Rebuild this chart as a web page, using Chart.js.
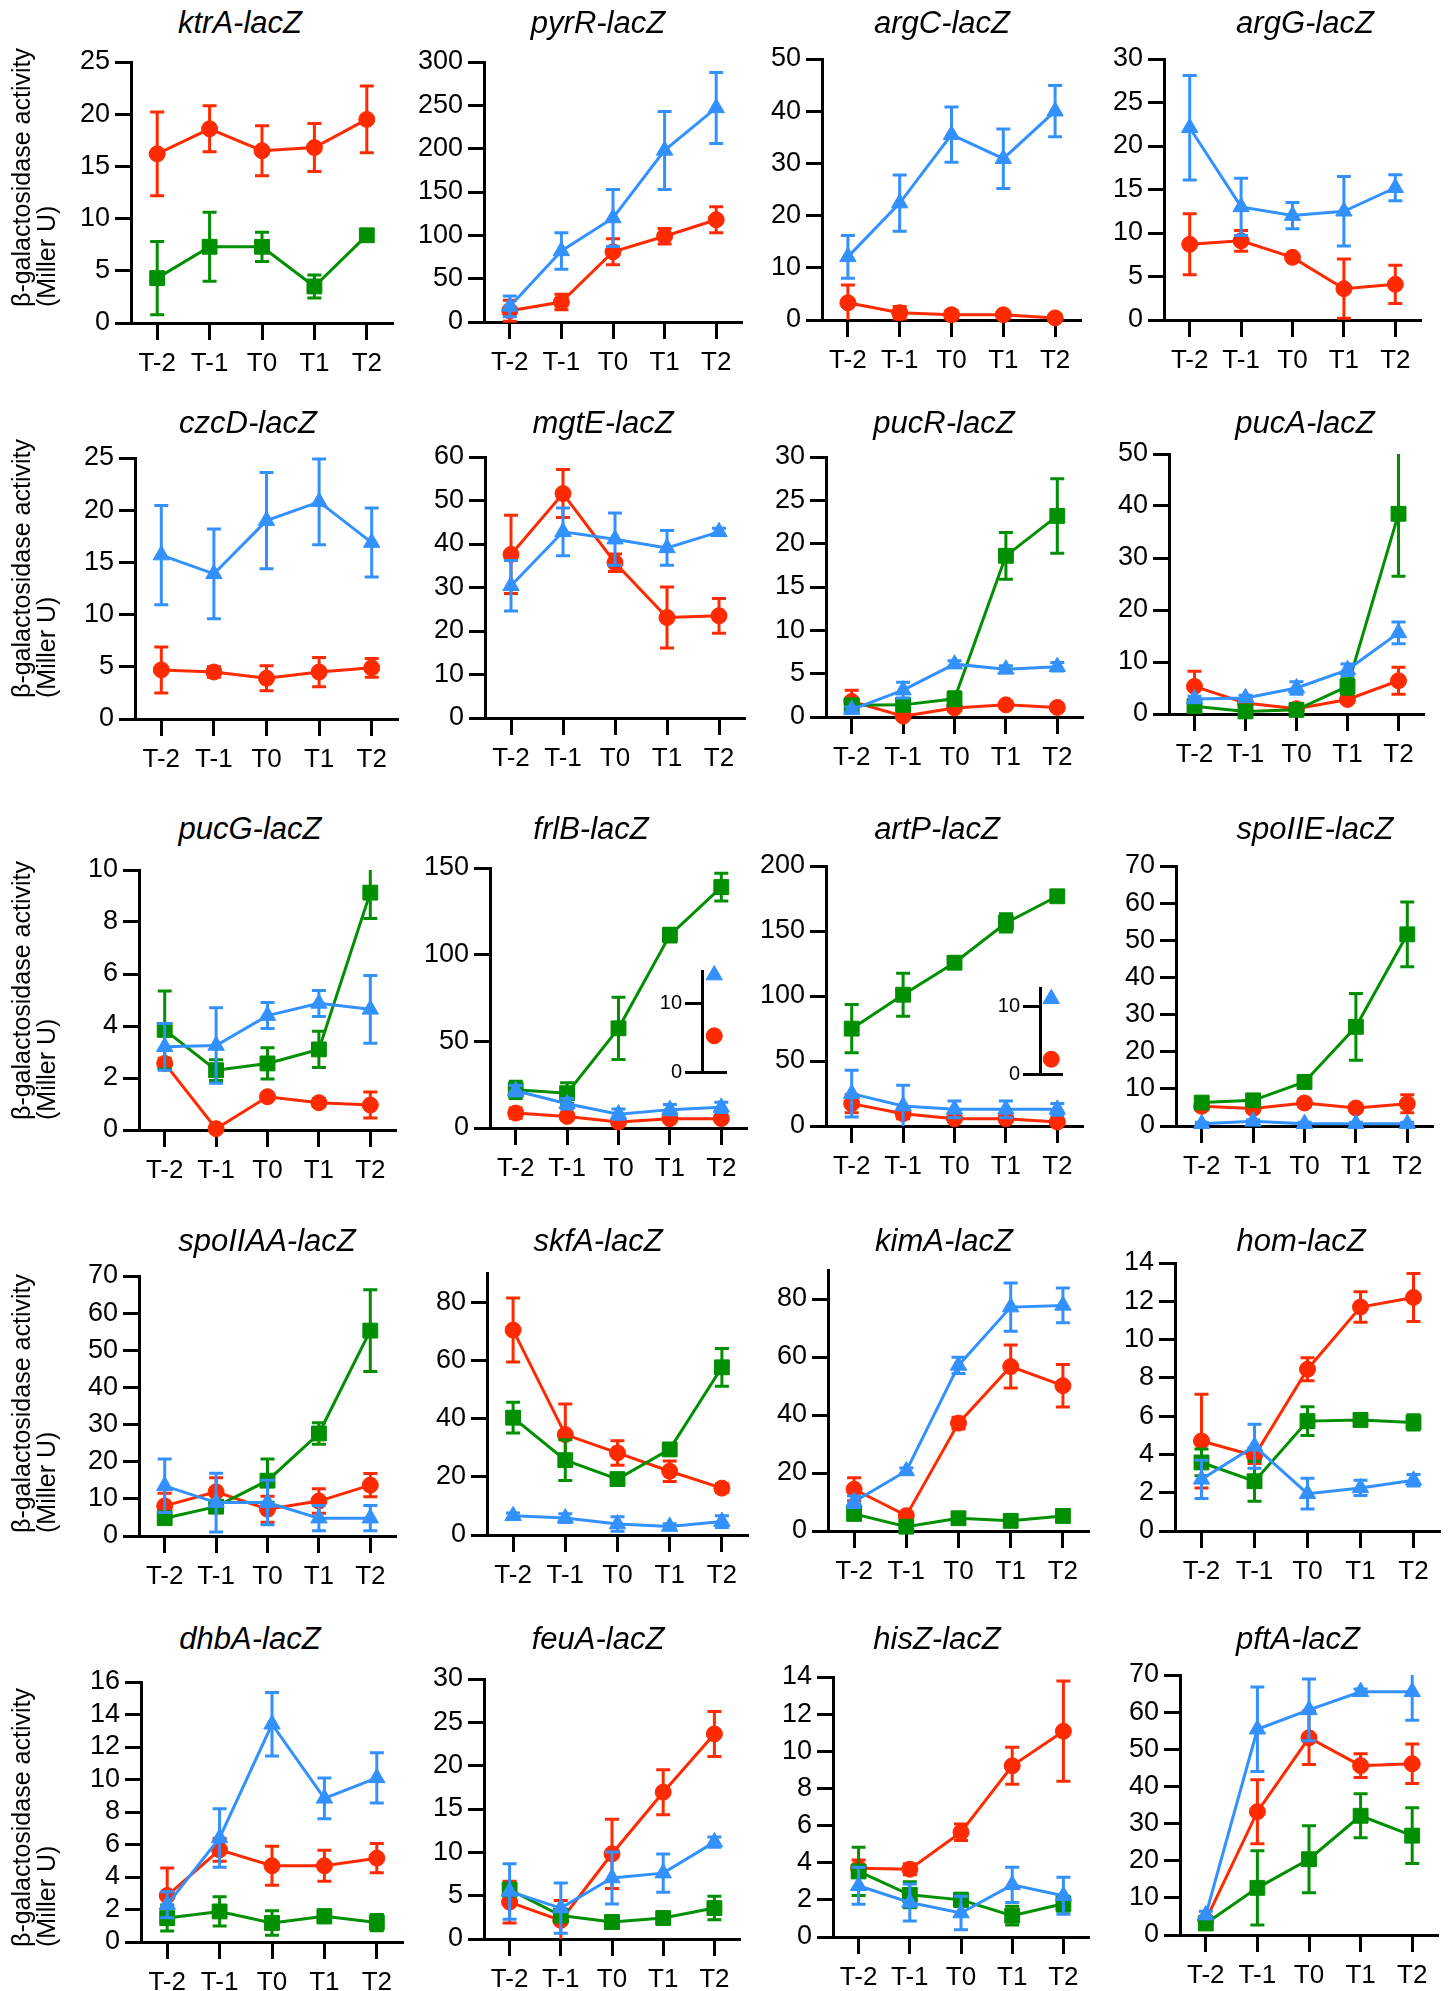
<!DOCTYPE html>
<html><head><meta charset="utf-8">
<script src="https://cdn.jsdelivr.net/npm/chart.js@4.4.1/dist/chart.umd.min.js"></script>
<style>
body{margin:0;background:#fff;}
#wrap{position:relative;width:1453px;height:1991px;overflow:hidden;background:#fff;}
canvas{position:absolute;}
.title{position:absolute;font-family:"Liberation Sans",Arial,Helvetica,sans-serif;font-style:italic;font-size:31px;line-height:31px;white-space:nowrap;transform:translate(-50%,-50%);color:#000;}
.ylab{position:absolute;font-family:"Liberation Sans",Arial,Helvetica,sans-serif;font-size:25px;line-height:25px;white-space:nowrap;transform-origin:0 0;transform:rotate(-90deg);color:#000;text-align:left;}
</style></head><body><div id="wrap"></div>
<script>
// ---------------- DATA ----------------
const timepoints = ['T-2','T-1','T0','T1','T2'];
const genes = ['ktrA','pyrR','argC','argG','czcD','mgtE','pucR','pucA','pucG','frlB','artP','spoIIE','spoIIAA','skfA','kimA','hom','dhbA','feuA','hisZ','pftA'];
const yAxisMax = [25,300,50,30, 25,60,30,50, 10,150,200,70, 70,90,90,14, 16,30,14,70];
const yTickStep = [5,50,10,5, 5,10,5,10, 2,50,50,10, 10,20,20,2, 2,5,2,10];
const yAxisTitle = ['β-galactosidase activity','(Miller U)'];

const ktrA_red = [16.2,18.6,16.5,16.8,19.5], ktrA_redSD = [4.0,2.2,2.4,2.3,3.2];
const ktrA_green = [4.3,7.3,7.3,3.5,8.4], ktrA_greenSD = [3.5,3.3,1.4,1.1,0.3];

const pyrR_red = [13,23,81,99,118], pyrR_redSD = [12,9,15,9,15];
const pyrR_blue = [18,82,120,198,247], pyrR_blueSD = [12,21,33,45,41];

const argC_red = [3.3,1.4,1.0,1.0,0.4], argC_redSD = [3.4,1.2,0.8,0.6,0.6];
const argC_blue = [12.1,22.4,35.5,30.9,40.0], argC_blueSD = [4.1,5.4,5.3,5.7,4.9];

const argG_red = [8.7,9.1,7.2,3.6,4.1], argG_redSD = [3.5,1.2,0.3,3.4,2.2];
const argG_blue = [22.1,13.0,12.0,12.5,15.2], argG_blueSD = [6.0,3.3,1.5,4.0,1.5];

const czcD_red = [4.7,4.5,3.9,4.5,4.9], czcD_redSD = [2.2,0.5,1.2,1.4,0.9];
const czcD_blue = [15.7,13.9,19.0,20.8,16.9], czcD_blueSD = [4.75,4.3,4.6,4.1,3.3];

const mgtE_red = [37.6,51.6,35.7,23.1,23.5], mgtE_redSD = [9,5.5,2,7,4];
const mgtE_blue = [30.4,42.8,41.1,39.1,42.8], mgtE_blueSD = [5.8,5.5,6,4,0.8];

const pucR_red = [1.8,0.1,1.05,1.4,1.1], pucR_redSD = [1.3,0.3,0.3,0.3,0.3];
const pucR_green = [1.35,1.4,2.1,18.6,23.2], pucR_greenSD = [0.3,0.4,0.8,2.7,4.3];
const pucR_blue = [0.85,3.1,6.1,5.5,5.8], pucR_blueSD = [0.3,0.9,0.4,0.4,0.5];

const pucA_red = [5.3,2.1,1.0,2.8,6.4], pucA_redSD = [2.9,0.5,0.3,0.5,2.6];
const pucA_green = [1.5,0.5,0.8,5.3,38.5], pucA_greenSD = [0.5,0.3,0.3,1.5,12];
const pucA_blue = [2.9,3.1,5.0,8.5,15.6], pucA_blueSD = [0.5,0.5,1.2,1.1,2.1];

const pucG_red = [2.56,0.05,1.28,1.05,0.96], pucG_redSD = [0.2,0.05,0.1,0.15,0.5];
const pucG_green = [3.85,2.3,2.56,3.1,9.13], pucG_greenSD = [1.5,0.4,0.6,0.7,1.0];
const pucG_blue = [3.2,3.25,4.4,4.87,4.64], pucG_blueSD = [0.9,1.45,0.5,0.5,1.3];

const frlB_red = [8.6,6.7,3.5,5.4,5.4], frlB_redSD = [3,2,1,1,1];
const frlB_green = [22,20.1,57.5,111.3,139], frlB_greenSD = [5,6,18,4,8];
const frlB_blue = [21.5,14,8,10.6,11.9], frlB_blueSD = [3,3,3,3,3];
const frlB_insetRed = [5.3], frlB_insetBlue = [14.2];

const artP_red = [17.2,9.5,5.6,5.6,3.1], artP_redSD = [7,4,2,2,2];
const artP_green = [74.9,101,125.6,156.2,176.7], artP_greenSD = [18.5,16.5,3,7,3];
const artP_blue = [24.9,15.4,12.8,12.8,12.8], artP_blueSD = [18,16,6.5,6.5,4.5];
const artP_insetRed = [2.2], artP_insetBlue = [11.2];
const insetAxisMax = [14.8, 12.8];
const insetTicks = [0, 10];

const spoIIE_red = [5.3,4.7,6.2,4.85,6.0], spoIIE_redSD = [1,1,1,1,2.4];
const spoIIE_green = [6.3,6.9,11.85,26.7,51.6], spoIIE_greenSD = [1,1,1,9,8.7];
const spoIIE_blue = [0.6,1.25,0.6,0.6,0.6], spoIIE_blueSD = [0.4,0.4,0.4,0.4,0.4];

const spoIIAA_red = [8.1,11.9,7.2,9.4,13.7], spoIIAA_redSD = [3.4,3.8,3.5,3.3,3.1];
const spoIIAA_green = [4.8,7.9,14.9,27.6,55.3], spoIIAA_greenSD = [1,1,5.8,2.9,11];
const spoIIAA_blue = [13.5,9.0,9.0,4.8,4.8], spoIIAA_blueSD = [7.2,7.9,6,3.4,3.4];

const skfA_red = [70.4,34.5,28.2,21.9,16.1], skfA_redSD = [11,10.5,4.2,3.5,1.5];
const skfA_green = [40.3,25.7,19.2,29.4,57.6], skfA_greenSD = [5.3,7,1.5,2,6.5];
const skfA_blue = [6.6,5.8,3.8,2.9,4.6], skfA_blueSD = [1,1.5,2.5,1,2];

const kimA_red = [14.4,5.3,37.2,56.7,50.1], kimA_redSD = [4,1,2,7.4,7.3];
const kimA_green = [5.9,1.5,4.4,3.5,5.2], kimA_greenSD = [1,1,1,1,1];
const kimA_blue = [10.1,20.7,57.1,77.2,77.8], kimA_blueSD = [2,1,2.8,8.3,6];

const hom_red = [4.7,3.93,8.45,11.7,12.2], hom_redSD = [2.45,0.4,0.6,0.8,1.25];
const hom_green = [3.58,2.6,5.74,5.8,5.67], hom_greenSD = [0.7,1.05,0.75,0.3,0.4];
const hom_blue = [2.7,4.43,1.95,2.25,2.65], hom_blueSD = [1.0,1.15,0.8,0.4,0.3];

const dhbA_red = [2.86,5.67,4.69,4.69,5.16], dhbA_redSD = [1.7,0.7,1.2,0.95,0.9];
const dhbA_green = [1.47,1.88,1.17,1.58,1.2], dhbA_greenSD = [0.8,0.9,0.75,0.4,0.5];
const dhbA_blue = [2.3,6.4,13.4,8.84,10.1], dhbA_blueSD = [0.8,1.8,1.95,1.25,1.55];

const feuA_red = [4.26,2.15,9.83,16.94,23.66], feuA_redSD = [2.4,2.3,4,2.6,2.6];
const feuA_green = [5.7,2.7,1.96,2.42,3.57], feuA_greenSD = [0.7,0.5,0.4,0.5,1.35];
const feuA_blue = [5.49,3.57,7.03,7.6,11.18], feuA_blueSD = [3.2,2.9,3,2.2,0.6];

const hisZ_red = [3.7,3.65,5.64,9.22,11.08], hisZ_redSD = [0.45,0.3,0.45,1.0,2.7];
const hisZ_green = [3.53,2.27,2.0,1.15,1.79], hisZ_greenSD = [1.3,0.7,0.35,0.5,0.4];
const hisZ_blue = [2.76,1.86,1.29,2.81,2.22], hisZ_blueSD = [1.0,1.0,0.9,0.95,1.0];

const pftA_red = [4.0,33.2,53.1,45.6,46.1], pftA_redSD = [1,8.6,7.2,3.2,5.3];
const pftA_green = [3.1,12.7,20.4,32.1,26.75], pftA_greenSD = [0.5,10,9,5.9,7.5];
const pftA_blue = [5.4,55.4,60.6,65.5,65.5], pftA_blueSD = [1,11.4,8.3,0.7,7.7];

// table built from the arrays above: [blue, blueSD, green, greenSD, red, redSD]
const panelSeries = [
  [null,null, ktrA_green,ktrA_greenSD, ktrA_red,ktrA_redSD],
  [pyrR_blue,pyrR_blueSD, null,null, pyrR_red,pyrR_redSD],
  [argC_blue,argC_blueSD, null,null, argC_red,argC_redSD],
  [argG_blue,argG_blueSD, null,null, argG_red,argG_redSD],
  [czcD_blue,czcD_blueSD, null,null, czcD_red,czcD_redSD],
  [mgtE_blue,mgtE_blueSD, null,null, mgtE_red,mgtE_redSD],
  [pucR_blue,pucR_blueSD, pucR_green,pucR_greenSD, pucR_red,pucR_redSD],
  [pucA_blue,pucA_blueSD, pucA_green,pucA_greenSD, pucA_red,pucA_redSD],
  [pucG_blue,pucG_blueSD, pucG_green,pucG_greenSD, pucG_red,pucG_redSD],
  [frlB_blue,frlB_blueSD, frlB_green,frlB_greenSD, frlB_red,frlB_redSD],
  [artP_blue,artP_blueSD, artP_green,artP_greenSD, artP_red,artP_redSD],
  [spoIIE_blue,spoIIE_blueSD, spoIIE_green,spoIIE_greenSD, spoIIE_red,spoIIE_redSD],
  [spoIIAA_blue,spoIIAA_blueSD, spoIIAA_green,spoIIAA_greenSD, spoIIAA_red,spoIIAA_redSD],
  [skfA_blue,skfA_blueSD, skfA_green,skfA_greenSD, skfA_red,skfA_redSD],
  [kimA_blue,kimA_blueSD, kimA_green,kimA_greenSD, kimA_red,kimA_redSD],
  [hom_blue,hom_blueSD, hom_green,hom_greenSD, hom_red,hom_redSD],
  [dhbA_blue,dhbA_blueSD, dhbA_green,dhbA_greenSD, dhbA_red,dhbA_redSD],
  [feuA_blue,feuA_blueSD, feuA_green,feuA_greenSD, feuA_red,feuA_redSD],
  [hisZ_blue,hisZ_blueSD, hisZ_green,hisZ_greenSD, hisZ_red,hisZ_redSD],
  [pftA_blue,pftA_blueSD, pftA_green,pftA_greenSD, pftA_red,pftA_redSD]
];
const insetSeries = [[frlB_insetBlue, frlB_insetRed],[artP_insetBlue, artP_insetRed]];

// ---------------- LAYOUT / STYLE ----------------
const panelBox = [ // [left, right, top, bottom] of plot area
  [131,393,62,323],[484,742,62,322],[822,1081,59,320],[1164,1421,59,320],
  [135,398,458,719],[485,745,457,718],[826,1083,457,717],[1169,1424,454,714],
  [139,396,870,1130],[490,747,868,1128],[826,1083,866,1126],[1176,1433,866,1126],
  [139,396,1276,1536],[487,748,1273,1535],[828,1089,1270,1531],[1175,1440,1263,1531],
  [141,403,1682,1942],[484,740,1679,1939],[833,1089,1677,1937],[1180,1438,1675,1935]
];
const titlePos = [[240,22],[598,22],[942,22],[1305,22],[248,422],[603,422],[944,422],[1305,422],
  [250,828],[591,828],[937,828],[1315,828],[267,1240],[598,1240],[944,1240],[1301,1240],
  [250,1638],[598,1638],[937,1638],[1298,1638]];
const yLabelBottom = [307,698,1120,1533,1947];
const insetBox = [[702,733,970,1083],[1040,1069,987,1085]];

const FONT = '"Liberation Sans", Arial, Helvetica, sans-serif';
const COL = {blue:'#3391ff', green:'#008f00', red:'#ff2a00'};
const SERIES = [
  {key:'blue', style:'triangle', r:9.5},
  {key:'green', style:'rect', r:10.5},
  {key:'red', style:'circle', r:8}
];
Chart.defaults.font.family = FONT;

const errorBars = {
  id:'errorBars',
  beforeDatasetDraw(chart, args){
    const ds = chart.data.datasets[args.index];
    const errs = ds.sd; if(!errs) return;
    const ys = chart.scales.y, area = chart.chartArea, ctx = chart.ctx;
    ctx.save();
    ctx.strokeStyle = ds.borderColor; ctx.lineWidth = 3; ctx.lineCap = 'butt';
    args.meta.data.forEach((el,i)=>{
      const v = ds.data[i], e = errs[i];
      if(v==null || !e) return;
      const x = el.x;
      const hiRaw = ys.getPixelForValue(v+e), loRaw = ys.getPixelForValue(v-e);
      const hi = Math.max(hiRaw, area.top), lo = Math.min(loRaw, area.bottom);
      ctx.beginPath();
      ctx.moveTo(x,lo); ctx.lineTo(x,hi);
      if(hiRaw >= area.top-0.5){ ctx.moveTo(x-7,hiRaw); ctx.lineTo(x+7,hiRaw); }
      if(loRaw <= area.bottom+0.5){ ctx.moveTo(x-7,loRaw); ctx.lineTo(x+7,loRaw); }
      ctx.stroke();
    });
    ctx.restore();
  }
};

const wrap = document.getElementById('wrap');

function makeCanvas(left, top, w, h){
  const c = document.createElement('canvas');
  c.width = w; c.height = h;
  c.style.left = left+'px'; c.style.top = top+'px';
  c.style.width = w+'px'; c.style.height = h+'px';
  wrap.appendChild(c);
  return c;
}

function makePanel(i){
  const [L,R,T,B] = panelBox[i];
  const YW = 85, PT = 22, PR = 12, XH = 64;
  const w = YW + (R-L) + PR, h = PT + (B-T) + XH;
  const c = makeCanvas(L-YW, T-PT, w, h);
  const row = panelSeries[i];
  const datasets = [];
  SERIES.forEach((s,k)=>{
    const vals = row[2*k], sd = row[2*k+1];
    if(!vals) return;
    datasets.push({
      data: vals, sd: sd,
      borderColor: COL[s.key], backgroundColor: COL[s.key],
      borderWidth: 3, pointStyle: s.style, pointRadius: s.r,
      pointBorderWidth: 1, pointBackgroundColor: COL[s.key], pointBorderColor: COL[s.key],
      tension: 0, clip: false, fill:false
    });
  });
  new Chart(c, {
    type:'line',
    data:{labels: timepoints, datasets},
    options:{
      responsive:false, animation:false, devicePixelRatio:1,
      layout:{padding:{top:PT, right:PR, left:0, bottom:0}},
      plugins:{legend:{display:false}, tooltip:{enabled:false}, title:{display:false}},
      scales:{
        x:{
          type:'category', offset:true,
          border:{display:true, color:'#000', width:3},
          grid:{display:true, drawOnChartArea:false, drawTicks:true, tickLength:17, tickWidth:3, tickColor:'#000', offset:false},
          ticks:{color:'#000', padding:8, maxRotation:0, autoSkip:false, font:{family:FONT, size:26}},
          afterFit(s){ s.height = XH; }
        },
        y:{
          type:'linear', min:0, max:yAxisMax[i],
          border:{display:true, color:'#000', width:3},
          grid:{display:true, drawOnChartArea:false, drawTicks:true, tickLength:16, tickWidth:3, tickColor:'#000'},
          ticks:{stepSize:yTickStep[i], includeBounds:false, autoSkip:false, color:'#000', padding:5, font:{family:FONT, size:27}},
          afterFit(s){ s.width = YW; }
        }
      }
    },
    plugins:[errorBars]
  });
  const t = document.createElement('div');
  t.className = 'title';
  t.textContent = genes[i] + '-lacZ';
  t.style.left = titlePos[i][0]+'px'; t.style.top = titlePos[i][1]+'px';
  wrap.appendChild(t);
}

function makeInset(j){
  const [L,R,T,B] = insetBox[j];
  const YW = 50, PT = 14, PR = 4, XH = 4;
  const w = YW + (R-L) + PR, h = PT + (B-T) + XH;
  const c = makeCanvas(L-YW, T-PT, w, h);
  const [blue, red] = insetSeries[j];
  new Chart(c, {
    type:'line',
    data:{labels:[''], datasets:[
      {data:blue, borderColor:COL.blue, backgroundColor:COL.blue, pointStyle:'triangle', pointRadius:9.5, pointBorderWidth:1, showLine:false, clip:false},
      {data:red, borderColor:COL.red, backgroundColor:COL.red, pointStyle:'circle', pointRadius:8, pointBorderWidth:1, showLine:false, clip:false}
    ]},
    options:{
      responsive:false, animation:false, devicePixelRatio:1,
      layout:{padding:{top:PT, right:PR, left:0, bottom:0}},
      plugins:{legend:{display:false}, tooltip:{enabled:false}},
      scales:{
        x:{type:'category', offset:true,
           border:{display:true, color:'#000', width:3},
           grid:{display:false}, ticks:{display:false},
           afterFit(s){ s.height = XH; }},
        y:{type:'linear', min:0, max:insetAxisMax[j],
           border:{display:true, color:'#000', width:3},
           grid:{display:true, drawOnChartArea:false, drawTicks:true, tickLength:17, tickWidth:3, tickColor:'#000'},
           afterBuildTicks(s){ s.ticks = insetTicks.map(v=>({value:v})); },
           ticks:{autoSkip:false, color:'#000', padding:3, font:{family:FONT, size:20}},
           afterFit(s){ s.width = YW; }}
      }
    }
  });
}

for(let i=0;i<genes.length;i++) makePanel(i);
for(let j=0;j<insetSeries.length;j++) makeInset(j);

yLabelBottom.forEach(yb=>{
  const d = document.createElement('div');
  d.className = 'ylab';
  d.innerHTML = yAxisTitle[0] + '<br>' + yAxisTitle[1];
  d.style.left = '9px'; d.style.top = yb+'px';
  wrap.appendChild(d);
});
</script>
</body></html>
